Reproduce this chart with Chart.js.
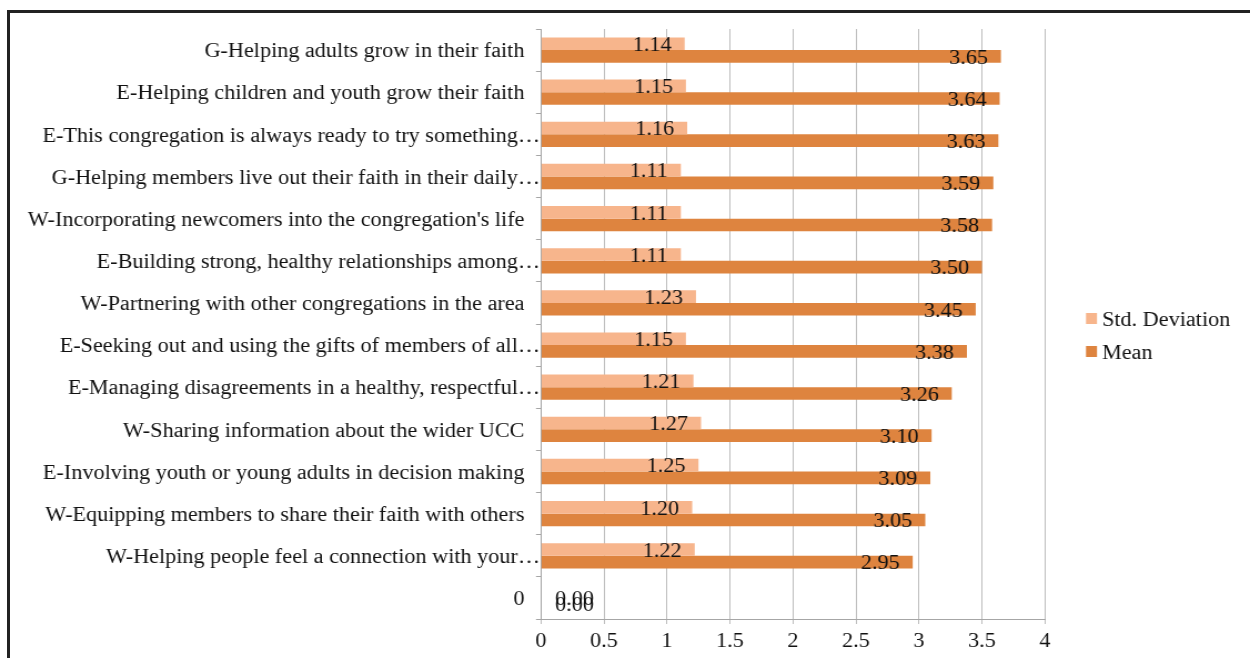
<!DOCTYPE html>
<html>
<head>
<meta charset="utf-8">
<script src="https://cdn.jsdelivr.net/npm/chart.js@4.4.1/dist/chart.umd.min.js"></script>
<style>
  html, body { margin: 0; padding: 0; background: #fff; overflow: hidden; }
  #wrap { position: relative; width: 1250px; height: 658px; overflow: hidden; }
  #frame {
    position: absolute; left: 7px; top: 10px; width: 1400px; height: 800px;
    border-top: 3px solid #222; border-left: 3px solid #222; box-sizing: border-box;
    pointer-events: none;
  }
  /* the chart is drawn slightly narrow and widened, giving the wide serif lettering */
  #chart { position: absolute; left: 0; top: 0; transform-origin: 0 0; }
</style>
</head>
<body>
<div id="wrap">
  <canvas id="chart" width="1126" height="658"></canvas>
  <div id="frame"></div>
</div>
<script>
// Survey items, top to bottom
const categories = [
  "G-Helping adults grow in their faith",
  "E-Helping children and youth grow their faith",
  "E-This congregation is always ready to try something…",
  "G-Helping members live out their faith in their daily…",
  "W-Incorporating newcomers into the congregation's life",
  "E-Building strong, healthy relationships among…",
  "W-Partnering with other congregations in the area",
  "E-Seeking out and using the gifts of members of all…",
  "E-Managing disagreements in a healthy, respectful…",
  "W-Sharing information about the wider UCC",
  "E-Involving youth or young adults in decision making",
  "W-Equipping members to share their faith with others",
  "W-Helping people feel a connection with your…",
  "0"
];
const stdDeviation = [1.14, 1.15, 1.16, 1.11, 1.11, 1.11, 1.23, 1.15, 1.21, 1.27, 1.25, 1.20, 1.22, 0.00];
const meanValues   = [3.65, 3.64, 3.63, 3.59, 3.58, 3.50, 3.45, 3.38, 3.26, 3.10, 3.09, 3.05, 2.95, 0.00];
const xTicks = [0, 0.5, 1, 1.5, 2, 2.5, 3, 3.5, 4];

const FONT = '"Liberation Serif", "Times New Roman", serif';
const TEXT = '#111';

// horizontal widening factor: page width / canvas width
const canvasEl = document.getElementById('chart');
const SX = 1250 / canvasEl.width;
canvasEl.style.transform = 'scaleX(' + SX + ')';
const px = v => v / SX;   // page x-distance -> canvas units

// Value labels drawn just inside the end of each bar
const valueLabels = {
  id: 'valueLabels',
  afterDatasetsDraw(chart) {
    const ctx = chart.ctx;
    const yScale = chart.scales.y;
    ctx.save();
    ctx.font = '20px ' + FONT;
    ctx.fillStyle = TEXT;
    ctx.textBaseline = 'middle';
    chart.data.datasets.forEach((ds, di) => {
      const meta = chart.getDatasetMeta(di);
      meta.data.forEach((bar, i) => {
        const v = ds.data[i];
        const txt = v.toFixed(2);
        if (v > 0) {
          ctx.textAlign = 'right';
          ctx.fillText(txt, bar.x - px(13), bar.y + 2);
        } else {
          // empty bars: label sits right of the base, pulled toward the row centre
          const mid = (bar.y + yScale.getPixelForValue(i)) / 2;
          ctx.textAlign = 'left';
          ctx.fillText(txt, bar.base + px(14), mid + 5);
        }
      });
    });
    ctx.restore();
  }
};

// Legend on the right, beside the plot
const sideLegend = {
  id: 'sideLegend',
  afterDraw(chart) {
    const ctx = chart.ctx;
    ctx.save();
    ctx.font = '20px ' + FONT;
    ctx.textBaseline = 'middle';
    ctx.textAlign = 'left';
    const rows = [319, 352];
    chart.data.datasets.forEach((ds, di) => {
      const y = rows[di];
      ctx.fillStyle = ds.backgroundColor;
      ctx.fillRect(px(1086), y - 6, px(11), 11);
      ctx.fillStyle = TEXT;
      ctx.fillText(ds.label, px(1102), y + 2);
    });
    ctx.restore();
  }
};

new Chart(canvasEl, {
  type: 'bar',
  data: {
    labels: categories,
    datasets: [
      { label: 'Std. Deviation', data: stdDeviation, backgroundColor: '#F7B58C',
        barPercentage: 1, categoryPercentage: 0.6 },
      { label: 'Mean', data: meanValues, backgroundColor: '#DE843F',
        barPercentage: 1, categoryPercentage: 0.6 }
    ]
  },
  options: {
    indexAxis: 'y',
    responsive: false,
    animation: false,
    devicePixelRatio: 1,
    layout: { padding: { top: 29, right: canvasEl.width - px(1045), left: 0, bottom: 0 } },
    plugins: { legend: { display: false }, tooltip: { enabled: false } },
    scales: {
      x: {
        min: 0, max: 4,
        afterBuildTicks(scale) { scale.ticks = xTicks.map(v => ({ value: v })); },
        afterFit(scale) { scale.height = 39; },
        grid: { color: '#bfbfbf', lineWidth: 1, drawTicks: true, tickLength: 5 },
        border: { color: '#a6a6a6' },
        ticks: { font: { family: FONT, size: 20 }, color: TEXT, padding: 6,
                 callback: v => String(v) }
      },
      y: {
        afterFit(scale) { scale.width = px(541); },
        grid: { drawOnChartArea: false, drawTicks: true, tickLength: px(5), color: '#a6a6a6', offset: true },
        border: { color: '#a6a6a6' },
        ticks: {
          font: { family: FONT, size: 20 }, color: TEXT, padding: -px(4), autoSkip: false,
          labelOffset: 2,
          // untruncated labels stand a little clear of the axis
          callback: (v, i) => categories[i].endsWith('…') ? categories[i] : categories[i] + '\u2002\u2009'
        }
      }
    }
  },
  plugins: [valueLabels, sideLegend]
});
</script>
</body>
</html>
